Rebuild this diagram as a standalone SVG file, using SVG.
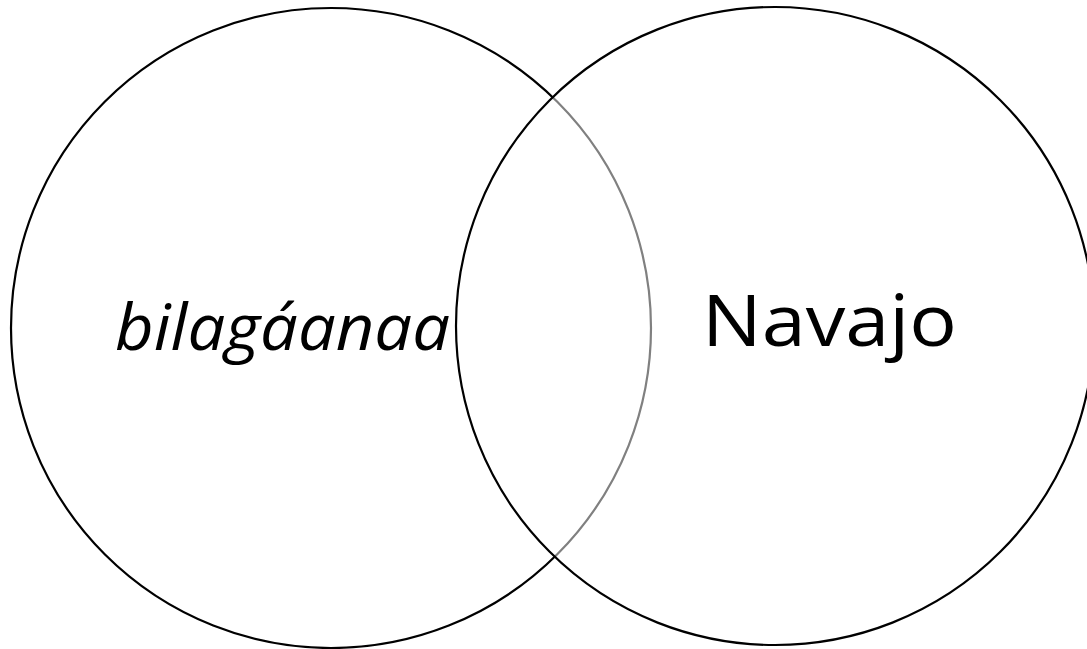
<svg xmlns="http://www.w3.org/2000/svg" width="1087" height="649" viewBox="0 0 1087 649">
<style>
.c{stroke:#000;stroke-width:2.2}
.t{font-family:"Open Sans","Liberation Sans",sans-serif;fill:#000}
</style>
<rect width="1087" height="649" fill="#fff"/>
<g id="left">
<circle class="c" cx="331" cy="328" r="320" fill="#fff"/>
<text class="t" x="115" y="350" font-size="64" font-style="italic" textLength="335" lengthAdjust="spacingAndGlyphs">bilagáanaa</text>
</g>
<g id="right">
<circle class="c" cx="775" cy="326" r="319" fill="#fff" fill-opacity="0.5"/>
<text class="t" x="702" y="346" font-size="72" textLength="255" lengthAdjust="spacingAndGlyphs">Navajo</text>
</g>
<g id="connectors"/>
</svg>
